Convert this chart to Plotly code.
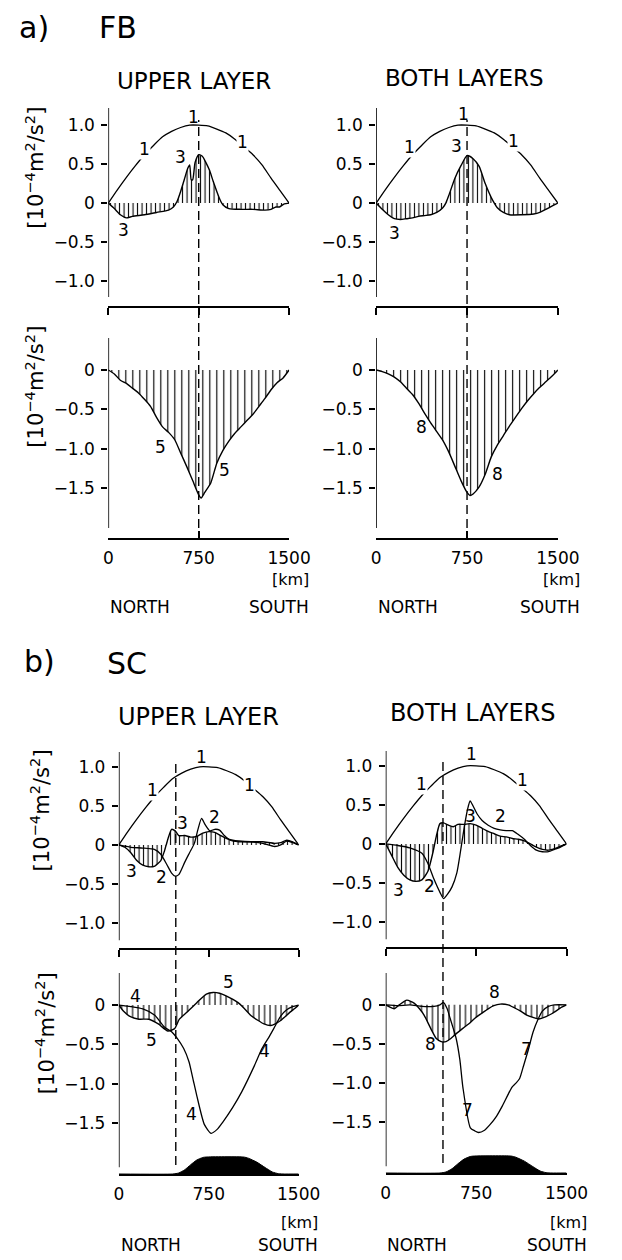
import plotly.graph_objects as go

W, H = 622, 1260
FONT = "DejaVu Sans"

# ---------------- data ----------------
# reference curve 1 (all upper-layer panels)
c1_km = [0, 75, 150, 225, 300, 375, 450, 525, 600, 675, 750, 825, 900, 975,
         1050, 1125, 1200, 1275, 1350, 1425, 1500]
c1_val = [0, 0.17, 0.33, 0.48, 0.62, 0.74, 0.85, 0.92, 0.97, 1.0, 1.0, 0.99,
          0.95, 0.9, 0.82, 0.72, 0.62, 0.49, 0.32, 0.16, 0]

# FB, upper layer, curve 3
fb_ul_km = [0, 50, 100, 150, 200, 300, 400, 500, 540, 570, 600, 630, 660, 675,
            688, 700, 720, 750, 780, 810, 840, 870, 900, 925, 950, 1000, 1100,
            1200, 1300, 1350, 1390, 1420, 1460, 1500]
fb_ul_3 = [0, -0.07, -0.15, -0.19, -0.17, -0.15, -0.12, -0.09, -0.05, 0.02,
           0.15, 0.3, 0.45, 0.49, 0.3, 0.3, 0.52, 0.62, 0.6, 0.52, 0.42, 0.28,
           0.15, 0.05, -0.02, -0.07, -0.08, -0.08, -0.09, -0.08, -0.05, -0.05,
           -0.01, 0]

# FB, both layers, curve 3
fb_ur_km = [0, 50, 100, 150, 200, 250, 300, 350, 400, 450, 500, 550, 575, 600,
            650, 700, 750, 800, 850, 900, 950, 975, 1000, 1050, 1100, 1200,
            1300, 1350, 1400, 1450, 1500]
fb_ur_3 = [0, -0.08, -0.15, -0.2, -0.21, -0.2, -0.19, -0.17, -0.16, -0.15,
           -0.12, -0.06, 0, 0.1, 0.32, 0.48, 0.61, 0.57, 0.47, 0.25, 0.07, 0,
           -0.06, -0.12, -0.15, -0.15, -0.14, -0.12, -0.08, -0.04, 0]

# FB, upper layer, curve 5
fb_ll_km = [0, 50, 100, 150, 200, 250, 300, 350, 400, 450, 500, 550, 600, 650,
            700, 750, 770, 800, 850, 900, 950, 1000, 1050, 1100, 1150, 1200,
            1250, 1300, 1350, 1400, 1450, 1500]
fb_ll_5 = [0, -0.05, -0.13, -0.17, -0.23, -0.29, -0.37, -0.46, -0.6, -0.72,
           -0.79, -0.88, -1.05, -1.22, -1.4, -1.58, -1.62, -1.55, -1.43, -1.18,
           -1.02, -0.9, -0.8, -0.72, -0.64, -0.56, -0.46, -0.36, -0.25, -0.16,
           -0.1, 0]

# FB, both layers, curve 8
fb_lr_km = [0, 50, 100, 150, 200, 250, 300, 350, 400, 450, 500, 550, 600, 650,
            700, 750, 775, 800, 850, 900, 950, 1000, 1050, 1100, 1150, 1200,
            1250, 1300, 1350, 1400, 1450, 1500]
fb_lr_8 = [0, -0.02, -0.05, -0.09, -0.15, -0.23, -0.31, -0.42, -0.55, -0.67,
           -0.78, -0.89, -1.04, -1.22, -1.4, -1.55, -1.59, -1.57, -1.48, -1.32,
           -1.1, -0.95, -0.83, -0.71, -0.6, -0.49, -0.39, -0.3, -0.22, -0.15,
           -0.08, 0]

# SC, upper layer, curves 3 and 2
sc_ul_km3 = [0, 50, 100, 150, 200, 250, 300, 350, 380, 410, 440, 470, 500,
             550, 600, 650, 700, 750, 800, 850, 900, 950, 1000, 1100, 1200,
             1300, 1350, 1400, 1450, 1500]
sc_ul_3 = [0, -0.03, -0.1, -0.2, -0.26, -0.28, -0.27, -0.2, -0.08, 0.08, 0.2,
           0.18, 0.12, 0.12, 0.1, 0.11, 0.15, 0.17, 0.16, 0.12, 0.08, 0.06,
           0.05, 0.04, 0.04, 0.02, 0.03, 0.06, 0.04, 0]
sc_ul_km2 = [0, 100, 200, 300, 350, 400, 440, 470, 500, 550, 590, 630, 660,
             690, 720, 760, 800, 840, 880, 930, 1000, 1100, 1200, 1300, 1350,
             1400, 1450, 1500]
sc_ul_2 = [0, -0.03, -0.04, -0.06, -0.12, -0.25, -0.36, -0.4, -0.38, -0.22,
           -0.1, 0.02, 0.2, 0.34, 0.26, 0.18, 0.2, 0.19, 0.12, 0.06, 0.04,
           0.04, 0.02, -0.02, 0.0, 0.05, 0.03, 0]

# SC, both layers, curves 3 and 2
sc_ur_km3 = [0, 50, 100, 150, 200, 250, 300, 350, 390, 420, 450, 480, 520,
             560, 600, 650, 700, 750, 800, 850, 900, 950, 1000, 1050, 1100,
             1150, 1200, 1250, 1300, 1350, 1400, 1450, 1500]
sc_ur_3 = [0, -0.15, -0.3, -0.4, -0.46, -0.48, -0.46, -0.35, -0.12, 0.1, 0.26,
           0.27, 0.24, 0.22, 0.25, 0.25, 0.26, 0.24, 0.2, 0.16, 0.13, 0.1,
           0.09, 0.07, 0.06, 0.04, 0.0, -0.04, -0.07, -0.08, -0.06, -0.03, 0]
sc_ur_km2 = [0, 100, 200, 300, 350, 400, 450, 480, 510, 550, 590, 620, 650,
             680, 700, 720, 760, 800, 850, 900, 950, 1000, 1050, 1100, 1150,
             1200, 1250, 1300, 1350, 1400, 1450, 1500]
sc_ur_2 = [0, -0.02, -0.05, -0.12, -0.25, -0.45, -0.62, -0.7, -0.65, -0.55,
           -0.37, -0.1, 0.2, 0.45, 0.55, 0.5, 0.38, 0.3, 0.24, 0.2, 0.18, 0.17,
           0.17, 0.12, 0.06, -0.02, -0.08, -0.1, -0.1, -0.07, -0.04, 0]

# SC, upper layer, curves 5 and 4
sc_ll_km5 = [0, 40, 88, 168, 249, 329, 409, 465, 505, 570, 650, 730, 786, 840,
             890, 995, 1050, 1107, 1211, 1267, 1347, 1428, 1470, 1500]
sc_ll_5 = [0, -0.08, -0.14, -0.18, -0.18, -0.24, -0.33, -0.3, -0.18, -0.09,
           0.03, 0.14, 0.16, 0.15, 0.12, 0.03, -0.05, -0.14, -0.24, -0.26,
           -0.2, -0.09, -0.04, 0]
sc_ll_km4 = [0, 100, 200, 300, 380, 440, 490, 540, 585, 620, 650, 714, 770,
             820, 866, 950, 1026, 1131, 1195, 1251, 1292, 1350, 1400, 1450,
             1500]
sc_ll_4 = [0, -0.02, -0.05, -0.13, -0.28, -0.34, -0.43, -0.55, -0.72, -0.95,
           -1.15, -1.52, -1.63, -1.58, -1.49, -1.3, -1.1, -0.77, -0.55, -0.41,
           -0.3, -0.14, -0.06, -0.02, 0]

# SC, both layers, curves 8 and 7
sc_lr_km8 = [0, 35, 70, 113, 175, 238, 280, 318, 373, 420, 460, 500, 540, 583,
             640, 690, 740, 794, 850, 897, 950, 1016, 1070, 1119, 1170, 1222,
             1270, 1330, 1381, 1460, 1500]
sc_lr_8 = [0, -0.03, -0.05, 0.0, 0.06, 0.02, -0.05, -0.13, -0.3, -0.43, -0.47,
           -0.47, -0.43, -0.37, -0.3, -0.24, -0.17, -0.11, -0.05, -0.01, 0.01,
           0.0, -0.04, -0.08, -0.13, -0.16, -0.18, -0.15, -0.11, -0.03, 0]
sc_lr_km7 = [0, 100, 200, 300, 400, 450, 480, 510, 530, 560, 583, 615, 640,
             702, 740, 770, 820, 865, 920, 968, 1048, 1080, 1111, 1143, 1182,
             1222, 1262, 1300, 1350, 1400, 1500]
sc_lr_7 = [0, -0.01, 0.0, -0.02, -0.02, 0.0, 0.03, -0.05, -0.15, -0.3, -0.42,
           -0.7, -1.05, -1.57, -1.61, -1.63, -1.6, -1.53, -1.42, -1.29, -1.05,
           -1.0, -0.94, -0.78, -0.58, -0.35, -0.19, -0.08, -0.02, 0.0, 0]

# bottom topography (relative height)
topo_km = [0, 450, 500, 550, 600, 650, 700, 730, 1040, 1080, 1150, 1220, 1280,
           1330, 1380, 1500]
topo_h = [0, 0, 0.06, 0.25, 0.55, 0.82, 0.97, 1.0, 1.0, 0.93, 0.7, 0.38, 0.12,
          0.02, 0, 0]

# ---------------- layout helpers ----------------
def px_x(px):
    return px / W


def px_y(py):
    return 1 - py / H


# panel geometry: (x left px, x right px, y top px, y bottom px, y range)
panels = {
    1: (108, 297, 108, 306, [-1.32, 1.22]),
    2: (388, 578, 108, 306, [-1.32, 1.22]),
    3: (108, 297, 338, 538, [-2.127, 0.405]),
    4: (388, 578, 338, 538, [-2.127, 0.405]),
    5: (119, 307, 752, 948, [-1.32, 1.19]),
    6: (398, 587, 751, 947, [-1.32, 1.19]),
    7: (119, 307, 973, 1174, [-2.147, 0.407]),
    8: (398, 587, 973, 1173, [-2.147, 0.407]),
}
upper = {1, 2, 5, 6}
yline_bottom = {1: -1.205, 2: -1.205, 3: -2.0, 4: -2.0,
                5: -1.22, 6: -1.22, 7: -2.06, 8: -2.06}

fig = go.Figure()
layout = dict(
    width=W, height=H, margin=dict(l=0, r=0, t=0, b=0),
    paper_bgcolor="white", plot_bgcolor="rgba(0,0,0,0)", showlegend=False,
    font=dict(family=FONT, color="black"),
)
shapes = []
for n, (xl, xr, yt, yb, yr) in panels.items():
    sx = "" if n == 1 else str(n)
    if n in upper:
        yt_vals = [-1, -0.5, 0, 0.5, 1]
        yt_text = ["\u22121.0", "\u22120.5", "0", "0.5", "1.0"]
    else:
        yt_vals = [-1.5, -1, -0.5, 0]
        yt_text = ["\u22121.5", "\u22121.0", "\u22120.5", "0"]
    layout["xaxis" + sx] = dict(
        domain=[px_x(xl), px_x(xr)], range=[0, 1500], anchor="y" + sx,
        showline=True, linecolor="black", linewidth=1.6, mirror=False,
        ticks="outside" if n in upper else "inside", ticklen=7, tickwidth=1.6,
        tickcolor="black", tickvals=[0, 750, 1500],
        ticktext=["0", "750", "1500"], showticklabels=n not in upper,
        tickfont=dict(size=17, family=FONT, color="black"),
        ticklabelstandoff=4, showgrid=False, zeroline=False, fixedrange=True,
    )
    layout["yaxis" + sx] = dict(
        domain=[px_y(yb), px_y(yt)], range=yr, anchor="x" + sx,
        showline=False, ticks="outside", ticklen=6, tickwidth=1.6,
        tickcolor="black", tickvals=yt_vals, ticktext=yt_text,
        tickfont=dict(size=17, family=FONT, color="black"),
        ticklabelstandoff=3, showgrid=False, zeroline=False, fixedrange=True,
    )
    # left axis line
    shapes.append(dict(type="line", xref="x" + sx, yref="y" + sx, x0=0, x1=0,
                       y0=yline_bottom[n], y1=yr[1],
                       line=dict(color="black", width=1.6)))

# overlay axes carrying the topography under the SC lower panels
for n, host in ((9, 7), (10, 8)):
    xl, xr, yt, yb, yr = panels[host]
    layout["yaxis%d" % n] = dict(
        domain=[px_y(yb), px_y(yt)], range=[0, 11.8], overlaying="y%d" % host,
        anchor="x%d" % host, visible=False, fixedrange=True)


def hatched(xs, ys, ax, size, solid):
    sx = "" if ax == 1 else str(ax)
    fig.add_trace(go.Scatter(
        x=xs, y=ys, xaxis="x" + sx, yaxis="y" + sx, mode="lines",
        line=dict(color="black", width=1.4, shape="spline", smoothing=0.6),
        fill="tozeroy", fillcolor="rgba(0,0,0,0)",
        fillpattern=dict(shape="|", size=size, solidity=solid, fgcolor="black",
                         bgcolor="rgba(0,0,0,0)", fgopacity=1),
        hoverinfo="skip"))


def plain(xs, ys, ax):
    sx = "" if ax == 1 else str(ax)
    fig.add_trace(go.Scatter(
        x=xs, y=ys, xaxis="x" + sx, yaxis="y" + sx, mode="lines",
        line=dict(color="black", width=1.3, shape="spline", smoothing=0.6),
        hoverinfo="skip"))


# FB
hatched(fb_ul_km, fb_ul_3, 1, 4.5, 0.24)
plain(c1_km, c1_val, 1)
hatched(fb_ur_km, fb_ur_3, 2, 4.5, 0.24)
plain(c1_km, c1_val, 2)
hatched(fb_ll_km, fb_ll_5, 3, 7, 0.16)
hatched(fb_lr_km, fb_lr_8, 4, 7, 0.16)
# SC
hatched(sc_ul_km3, sc_ul_3, 5, 4.5, 0.24)
plain(sc_ul_km2, sc_ul_2, 5)
plain(c1_km, c1_val, 5)
hatched(sc_ur_km3, sc_ur_3, 6, 4.5, 0.24)
plain(sc_ur_km2, sc_ur_2, 6)
plain(c1_km, c1_val, 6)
hatched(sc_ll_km5, sc_ll_5, 7, 5.5, 0.2)
plain(sc_ll_km4, sc_ll_4, 7)
hatched(sc_lr_km8, sc_lr_8, 8, 5.5, 0.2)
plain(sc_lr_km7, sc_lr_7, 8)
for ov, host in ((9, 7), (10, 8)):
    fig.add_trace(go.Scatter(
        x=topo_km, y=topo_h, xaxis="x%d" % host, yaxis="y%d" % ov,
        mode="lines", line=dict(color="black", width=1, shape="spline",
                                smoothing=0.5),
        fill="tozeroy", fillcolor="black", hoverinfo="skip"))

# dashed sections
dash = dict(color="black", width=1.4, dash="9px,5px")
shapes.append(dict(type="line", xref="x", yref="paper", x0=750, x1=750,
                   y0=px_y(528), y1=px_y(120), line=dash))
shapes.append(dict(type="line", xref="x2", yref="paper", x0=750, x1=750,
                   y0=px_y(528), y1=px_y(120), line=dash))
shapes.append(dict(type="line", xref="x5", yref="paper", x0=475, x1=475,
                   y0=px_y(1165), y1=px_y(763), line=dash))
shapes.append(dict(type="line", xref="x6", yref="paper", x0=475, x1=475,
                   y0=px_y(1163), y1=px_y(762), line=dash))
layout["shapes"] = shapes

# ---------------- text ----------------
ann = []


def ptext(txt, x, y, size, xanchor="center", angle=0):
    ann.append(dict(text=txt, x=px_x(x), y=px_y(y), xref="paper",
                    yref="paper", showarrow=False, xanchor=xanchor,
                    yanchor="middle", textangle=angle,
                    font=dict(size=size, family=FONT, color="black")))


def clabel(txt, ax, x, y, bg=False):
    sx = "" if ax == 1 else str(ax)
    d = dict(text=txt, x=x, y=y, xref="x" + sx, yref="y" + sx,
             showarrow=False, font=dict(size=17, family=FONT, color="black"),
             borderpad=0)
    if bg:
        d["bgcolor"] = "white"
    ann.append(d)


ptext("a)", 30, 27, 30)
ptext("FB", 118, 27, 30)
ptext("UPPER LAYER", 198, 81, 23)
ptext("BOTH LAYERS", 480, 78, 23)
ptext("b)", 36, 661, 30)
ptext("SC", 128, 663, 30)
ptext("UPPER LAYER", 202, 717, 24)
ptext("BOTH LAYERS", 489, 713, 24)

ytitle = "[10<sup>\u22124</sup>m<sup>2</sup>/s<sup>2</sup>]"
ptext(ytitle, 31, 168, 21, angle=-90)
ptext(ytitle, 31, 387, 21, angle=-90)
ptext(ytitle, 37, 810, 21, angle=-90)
ptext(ytitle, 42, 1033, 21, angle=-90)

for (xr_, ykm, ydir) in ((320, 580, 607), (603, 580, 607),
                         (329, 1222, 1245), (611, 1222, 1245)):
    ptext("[km]", xr_, ykm, 16, xanchor="right")
    ptext("SOUTH", xr_, ydir, 17, xanchor="right")
for (xl_, ydir) in ((108, 607), (388, 607), (119, 1245), (397, 1245)):
    ptext("NORTH", xl_, ydir, 17, xanchor="left")

# curve labels
clabel("1", 1, 300, 0.7, True)
clabel("1", 1, 707, 1.1)
clabel("1", 1, 1112, 0.79, True)
clabel("3", 1, 595, 0.59)
clabel("3", 1, 127, -0.35)

clabel("1", 2, 277, 0.72, True)
clabel("1", 2, 718, 1.14)
clabel("1", 2, 1130, 0.8, True)
clabel("3", 2, 663, 0.73)
clabel("3", 2, 150, -0.38)

clabel("5", 3, 437, -0.97)
clabel("5", 3, 968, -1.27)
clabel("8", 4, 371, -0.72)
clabel("8", 4, 1003, -1.32)

clabel("1", 5, 280, 0.7, True)
clabel("1", 5, 690, 1.12)
clabel("1", 5, 1093, 0.77, True)
clabel("3", 5, 109, -0.33)
clabel("2", 5, 360, -0.41)
clabel("3", 5, 532, 0.28)
clabel("2", 5, 797, 0.36)

clabel("1", 6, 298, 0.77, True)
clabel("1", 6, 715, 1.15)
clabel("1", 6, 1131, 0.82, True)
clabel("3", 6, 701, 0.36)
clabel("2", 6, 956, 0.36)
clabel("3", 6, 110, -0.59)
clabel("2", 6, 365, -0.54)

clabel("4", 7, 142, 0.12)
clabel("5", 7, 275, -0.45)
clabel("5", 7, 917, 0.29)
clabel("4", 7, 610, -1.39)
clabel("4", 7, 1211, -0.58)

clabel("8", 8, 373, -0.5)
clabel("8", 8, 903, 0.16)
clabel("7", 8, 677, -1.34)
clabel("7", 8, 1167, -0.56)

layout["annotations"] = ann
fig.update_layout(**layout)
fig.write_html("out.html")
